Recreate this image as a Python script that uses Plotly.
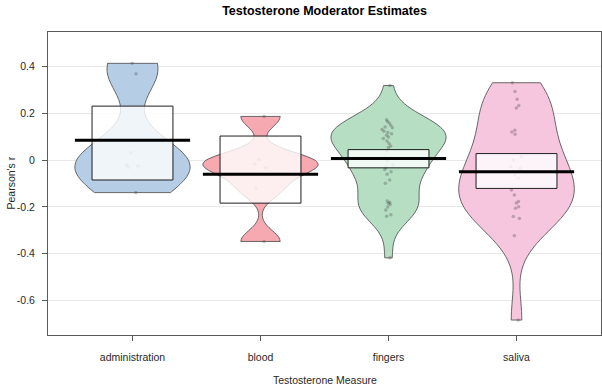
import numpy as np
import plotly.graph_objects as go

# ---- data ----
categories = ["administration", "blood", "fingers", "saliva"]

administration = [0.414, 0.369, 0.031, -0.020, -0.026, -0.030, -0.139]
blood = [0.187, 0.003, -0.015, -0.033, -0.121, -0.348]
fingers = [0.319, 0.173, 0.165, 0.159, 0.149, 0.142, 0.138, 0.131, 0.123, 0.118,
           0.113, 0.106, 0.099, 0.092, 0.082, 0.071, 0.060, 0.054, 0.040,
           0.010, -0.003, -0.020, -0.030, -0.040, -0.050, -0.060, -0.085, -0.099,
           -0.175, -0.180, -0.185, -0.190, -0.200, -0.213, -0.234, -0.240,
           -0.418]
saliva = [0.331, 0.294, 0.260, 0.234, 0.223, 0.128, 0.120, 0.111, 0.014, 0.000,
          -0.028, -0.035, -0.064, -0.078, -0.128, -0.149, -0.177, -0.183, -0.199,
          -0.206, -0.241, -0.250, -0.323, -0.684]

group_values = [administration, blood, fingers, saliva]
means = [0.085, -0.060, 0.007, -0.050]
band_low = [-0.085, -0.184, -0.033, -0.121]
band_high = [0.231, 0.103, 0.045, 0.028]

ytick_vals = [-0.6, -0.4, -0.2, 0, 0.2, 0.4]
ytick_text = ["-0.6", "-0.4", "-0.2", "0", "0.2", "0.4"]

# ---- styles ----
bean_colors = ["rgb(181,205,229)", "rgb(246,169,177)", "rgb(181,222,195)", "rgb(246,197,222)"]
FONT = "Liberation Sans, Arial, sans-serif"
BEAN_HALF = 0.45
BOX_HALF = 0.316


def bw_nrd0(x):
    x = np.asarray(x, dtype=float)
    sd = x.std(ddof=1)
    q75, q25 = np.percentile(x, [75, 25])
    lo = min(sd, (q75 - q25) / 1.34)
    if lo <= 0:
        lo = sd
    return 0.9 * lo * len(x) ** (-0.2)


fig = go.Figure()

for i, (cat, vals) in enumerate(zip(categories, group_values)):
    pos = i + 1
    fig.add_trace(go.Violin(
        y=vals, x0=pos, name=cat,
        width=2 * BEAN_HALF, scalemode="width", spanmode="hard",
        bandwidth=bw_nrd0(vals),
        fillcolor=bean_colors[i],
        line=dict(color="rgb(70,70,70)", width=0.8),
        points="all", pointpos=0, jitter=0.12,
        marker=dict(size=3.5, color="rgba(70,70,70,0.32)", line=dict(width=0)),
        box_visible=False, meanline_visible=False,
        showlegend=False, hoverinfo="skip",
    ))

# inference bands (boxes)
for i in range(len(categories)):
    pos = i + 1
    fig.add_trace(go.Scatter(
        x=[pos - BOX_HALF, pos + BOX_HALF, pos + BOX_HALF, pos - BOX_HALF, pos - BOX_HALF],
        y=[band_low[i], band_low[i], band_high[i], band_high[i], band_low[i]],
        mode="lines", fill="toself", fillcolor="rgba(255,255,255,0.8)",
        line=dict(color="rgb(30,30,30)", width=1),
        showlegend=False, hoverinfo="skip",
    ))

# mean lines
for i in range(len(categories)):
    pos = i + 1
    fig.add_trace(go.Scatter(
        x=[pos - BEAN_HALF, pos + BEAN_HALF], y=[means[i], means[i]],
        mode="lines", line=dict(color="black", width=3),
        showlegend=False, hoverinfo="skip",
    ))

fig.update_layout(
    width=602, height=387,
    margin=dict(l=48, r=1, t=32, b=52),
    paper_bgcolor="white", plot_bgcolor="white",
    violinmode="overlay",
    font=dict(family=FONT, size=10, color="rgb(40,40,40)"),
    title=dict(text="<b>Testosterone Moderator Estimates</b>", x=0.5, xref="paper",
               y=1 - 11 / 387, yref="container", yanchor="middle", xanchor="center",
               font=dict(family=FONT, size=12.5, color="black")),
    xaxis=dict(range=[0.34, 4.66], tickvals=[1, 2, 3, 4], ticktext=categories,
               showgrid=False, zeroline=False, showline=True, mirror=True,
               linecolor="rgb(90,90,90)", linewidth=1,
               ticks="outside", ticklen=5, tickcolor="rgb(90,90,90)",
               ticklabelstandoff=7,
               tickfont=dict(size=10.5, color="rgb(40,40,40)")),
    yaxis=dict(range=[-0.748, 0.548], tickvals=ytick_vals, ticktext=ytick_text,
               showgrid=True, gridcolor="rgb(232,232,232)", gridwidth=1, zeroline=False,
               showline=True, mirror=True, linecolor="rgb(90,90,90)", linewidth=1,
               ticks="outside", ticklen=5, tickcolor="rgb(90,90,90)",
               ticklabelstandoff=5,
               tickfont=dict(size=10.5, color="rgb(40,40,40)")),
    annotations=[
        dict(text="Testosterone Measure", xref="paper", yref="paper", x=0.5,
             y=-(380 - 335) / 303, xanchor="center", yanchor="middle", showarrow=False,
             font=dict(family=FONT, size=10.5, color="rgb(40,40,40)")),
        dict(text="Pearson's r", xref="paper", yref="paper", x=-(48 - 10) / 553,
             y=0.5, xanchor="center", yanchor="middle", textangle=-90, showarrow=False,
             font=dict(family=FONT, size=10.5, color="rgb(40,40,40)")),
    ],
)

fig.write_html("out.html", config={"displayModeBar": False},
               post_script="document.body.style.margin='0';")
